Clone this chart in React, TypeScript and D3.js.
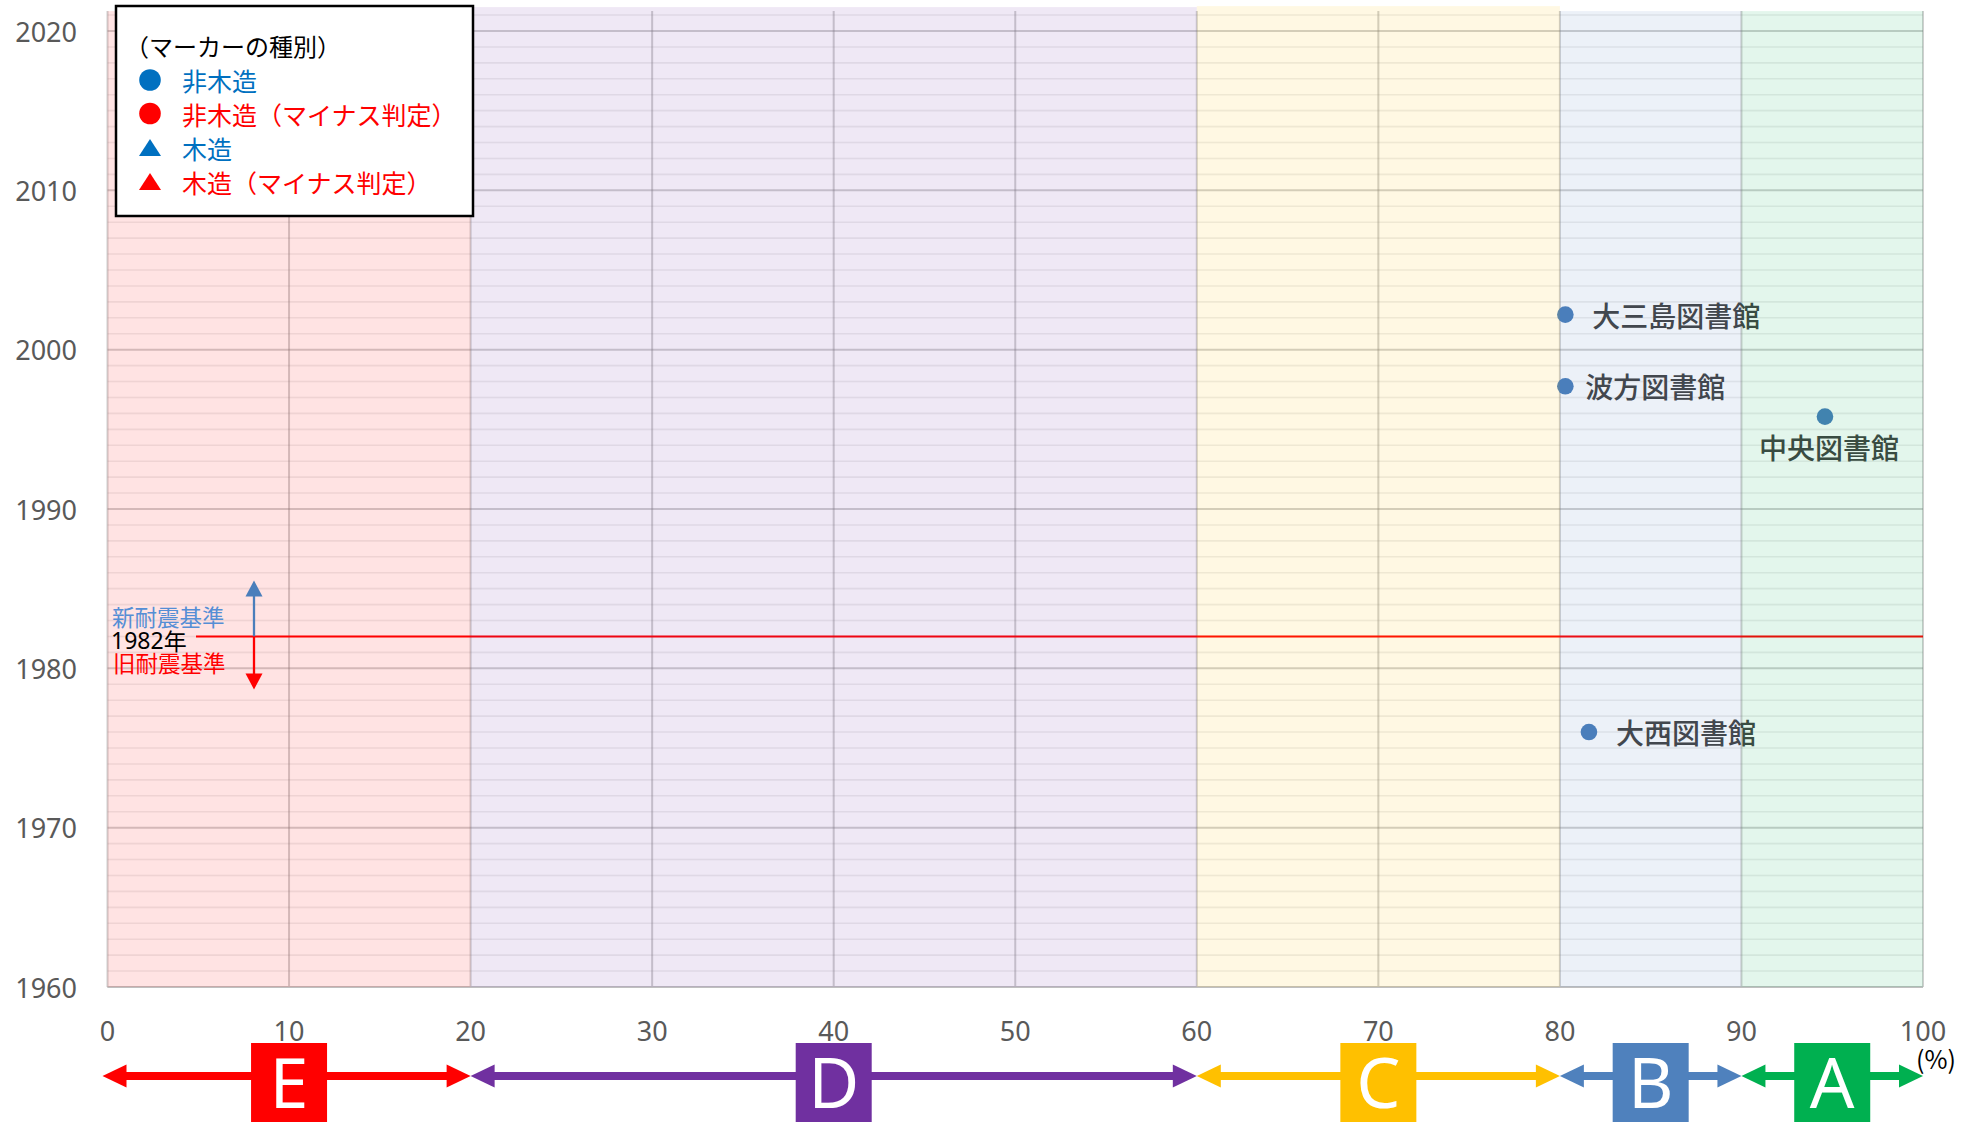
import * as d3 from 'd3';

// 評価ランク帯（%）
const grades = ['E', 'D', 'C', 'B', 'A'];
const gradeFrom = [0, 20, 60, 80, 90];
const gradeTo = [20, 60, 80, 90, 100];
const gradeLabelAt = [10, 40, 70, 85, 95];

// 図書館（診断値 %, 建築年）
const libraries = ['大三島図書館', '波方図書館', '中央図書館', '大西図書館'];
const libRate = [80.3, 80.3, 94.6, 81.6];
const libYear = [2002.2, 1997.7, 1995.8, 1976.0];

const xTicks = [0, 10, 20, 30, 40, 50, 60, 70, 80, 90, 100];
const yTicks = [1960, 1970, 1980, 1990, 2000, 2010, 2020];
const minorYears = d3.range(1961, 2022).filter(v => v % 10 !== 0);

const legendLabels = ['非木造', '非木造（マイナス判定）', '木造', '木造（マイナス判定）'];
const legendShapes = ['circle', 'circle', 'triangle', 'triangle'];

const quakeYear = 1982;

const W = 1985;
const H = 1125;
const gradeColor: Record<string, string> = {
  E: '#FF0000', D: '#7030A0', C: '#FFC000', B: '#4F81BD', A: '#00B050',
};
const bandOverhang: Record<string, number> = { E: 0, D: 4, C: 5, B: 0, A: 0 };
// label placement relative to the dot
const labelPos = [
  { dx: 27, dy: 0, anchor: 'start' },
  { dx: 20, dy: 0, anchor: 'start' },
  { dx: 4, dy: 30, anchor: 'middle' },
  { dx: 27, dy: 0, anchor: 'start' },
];

const NUM = '"Noto Sans", "Open Sans", sans-serif';
const JP = '"Noto Sans CJK JP", "Noto Sans", sans-serif';

export default function App() {
  const x = d3.scaleLinear().domain([0, 100]).range([107.5, 1923]);
  const y = d3.scaleLinear().domain([1960, 2020]).range([987, 31]);
  const top = y(2021.25);
  const bottom = y(1960);

  const yq = y(quakeYear);
  const arrowX = 254;

  return (
    <svg width={W} height={H} style={{ position: 'absolute', left: 0, top: 0, display: 'block', background: '#fff' }}>
      {/* minor gridlines */}
      {minorYears.map(v => (
        <line key={'m' + v} x1={x(0)} x2={x(100)} y1={y(v)} y2={y(v)}
          stroke="rgba(140,140,140,0.16)" strokeWidth={1.6} />
      ))}
      {/* major gridlines */}
      {yTicks.map(v => (
        <line key={'g' + v} x1={x(0)} x2={x(100)} y1={y(v)} y2={y(v)}
          stroke="rgba(130,130,130,0.38)" strokeWidth={2} />
      ))}
      {xTicks.map(v => (
        <line key={'v' + v} x1={x(v)} x2={x(v)} y1={top} y2={bottom}
          stroke="rgba(130,130,130,0.38)" strokeWidth={2} />
      ))}
      <line x1={x(0)} x2={x(100)} y1={bottom} y2={bottom} stroke="#BFBFBF" strokeWidth={2} />

      {/* points */}
      {libraries.map((name, i) => {
        const cx = x(libRate[i]);
        const cy = y(libYear[i]);
        const p = labelPos[i];
        return (
          <g key={name}>
            <circle cx={cx} cy={cy} r={8.3} fill="#4A7EBB" />
            <text x={cx + p.dx} y={cy + p.dy} textAnchor={p.anchor as any} dominantBaseline="central"
              fontFamily={JP} fontSize={28} fontWeight={500} fill="#404040">{name}</text>
          </g>
        );
      })}

      {/* 1982 line */}
      <line x1={196} x2={x(100)} y1={yq} y2={yq} stroke="#FF0000" strokeWidth={2} />

      {/* rank bands (translucent overlay) */}
      {grades.map((g, i) => (
        <rect key={'b' + g} x={x(gradeFrom[i])} width={x(gradeTo[i]) - x(gradeFrom[i])}
          y={top - bandOverhang[g]} height={bottom - top + bandOverhang[g]}
          fill={gradeColor[g]} fillOpacity={0.11} />
      ))}

      {/* y axis labels */}
      {yTicks.map(v => (
        <text key={'yl' + v} x={77} y={y(v)} textAnchor="end" dominantBaseline="central"
          fontFamily={NUM} fontSize={27} fill="#595959">{v}</text>
      ))}
      {/* x axis labels */}
      {xTicks.map(v => (
        <text key={'xl' + v} x={x(v)} y={1030} textAnchor="middle" dominantBaseline="central"
          fontFamily={NUM} fontSize={27} fill="#595959">{v}</text>
      ))}
      <text x={1936} y={1058} textAnchor="middle" dominantBaseline="central"
        fontFamily={JP} fontSize={25} fill="#000">(%)</text>

      {/* rank arrows */}
      {grades.map((g, i) => {
        const x0 = x(gradeFrom[i]) - (i === 0 ? 5 : 0);
        const x1 = x(gradeTo[i]);
        const cy = 1076;
        const hl = 24, hh = 11.5;
        const c = gradeColor[g];
        const bx = x(gradeLabelAt[i]);
        return (
          <g key={'a' + g}>
            <rect x={x0 + hl - 1} width={x1 - x0 - 2 * hl + 2} y={cy - 4} height={8} fill={c} />
            <polygon points={`${x0},${cy} ${x0 + hl},${cy - hh} ${x0 + hl},${cy + hh}`} fill={c} />
            <polygon points={`${x1},${cy} ${x1 - hl},${cy - hh} ${x1 - hl},${cy + hh}`} fill={c} />
            <rect x={bx - 38} y={1043} width={76} height={79} fill={c} />
            <text x={bx} y={1108} textAnchor="middle" fontFamily={NUM} fontSize={70} fill="#fff">{g}</text>
          </g>
        );
      })}

      {/* 1982 annotation */}
      <line x1={arrowX} x2={arrowX} y1={yq} y2={yq - 42} stroke="#4A7EBB" strokeWidth={2.3} />
      <polygon points={`${arrowX},${yq - 56} ${arrowX - 8.5},${yq - 40} ${arrowX + 8.5},${yq - 40}`} fill="#4A7EBB" />
      <line x1={arrowX} x2={arrowX} y1={yq} y2={yq + 40} stroke="#FF0000" strokeWidth={2.3} />
      <polygon points={`${arrowX},${yq + 53} ${arrowX - 8.5},${yq + 37} ${arrowX + 8.5},${yq + 37}`} fill="#FF0000" />
      <text x={112} y={yq - 20} dominantBaseline="central" fontFamily={JP} fontSize={22.5} fill="#558ED5">新耐震基準</text>
      <text x={111} y={yq + 4} dominantBaseline="central" fontFamily={NUM} fontSize={23} fill="#000">
        1982<tspan fontFamily={JP}>年</tspan>
      </text>
      <text x={113} y={yq + 26} dominantBaseline="central" fontFamily={JP} fontSize={22.5} fill="#FF0000">旧耐震基準</text>

      {/* legend */}
      <rect x={116} y={6} width={357} height={210} fill="#fff" stroke="#000" strokeWidth={2.5} />
      <text x={125} y={45} dominantBaseline="central" fontFamily={JP} fontSize={24} fill="#000">（マーカーの種別）</text>
      {legendLabels.map((lab, i) => {
        const ly = [80, 113.5, 148, 182][i];
        const c = i % 2 === 0 ? '#0070C0' : '#FF0000';
        return (
          <g key={lab}>
            {legendShapes[i] === 'circle'
              ? <circle cx={150} cy={ly} r={10.8} fill={c} />
              : <polygon points={`150,${ly - 9} ${139},${ly + 8} ${161},${ly + 8}`} fill={c} />}
            <text x={182} y={ly} dominantBaseline="central" fontFamily={JP} fontSize={25} fill={c}>{lab}</text>
          </g>
        );
      })}
    </svg>
  );
}
